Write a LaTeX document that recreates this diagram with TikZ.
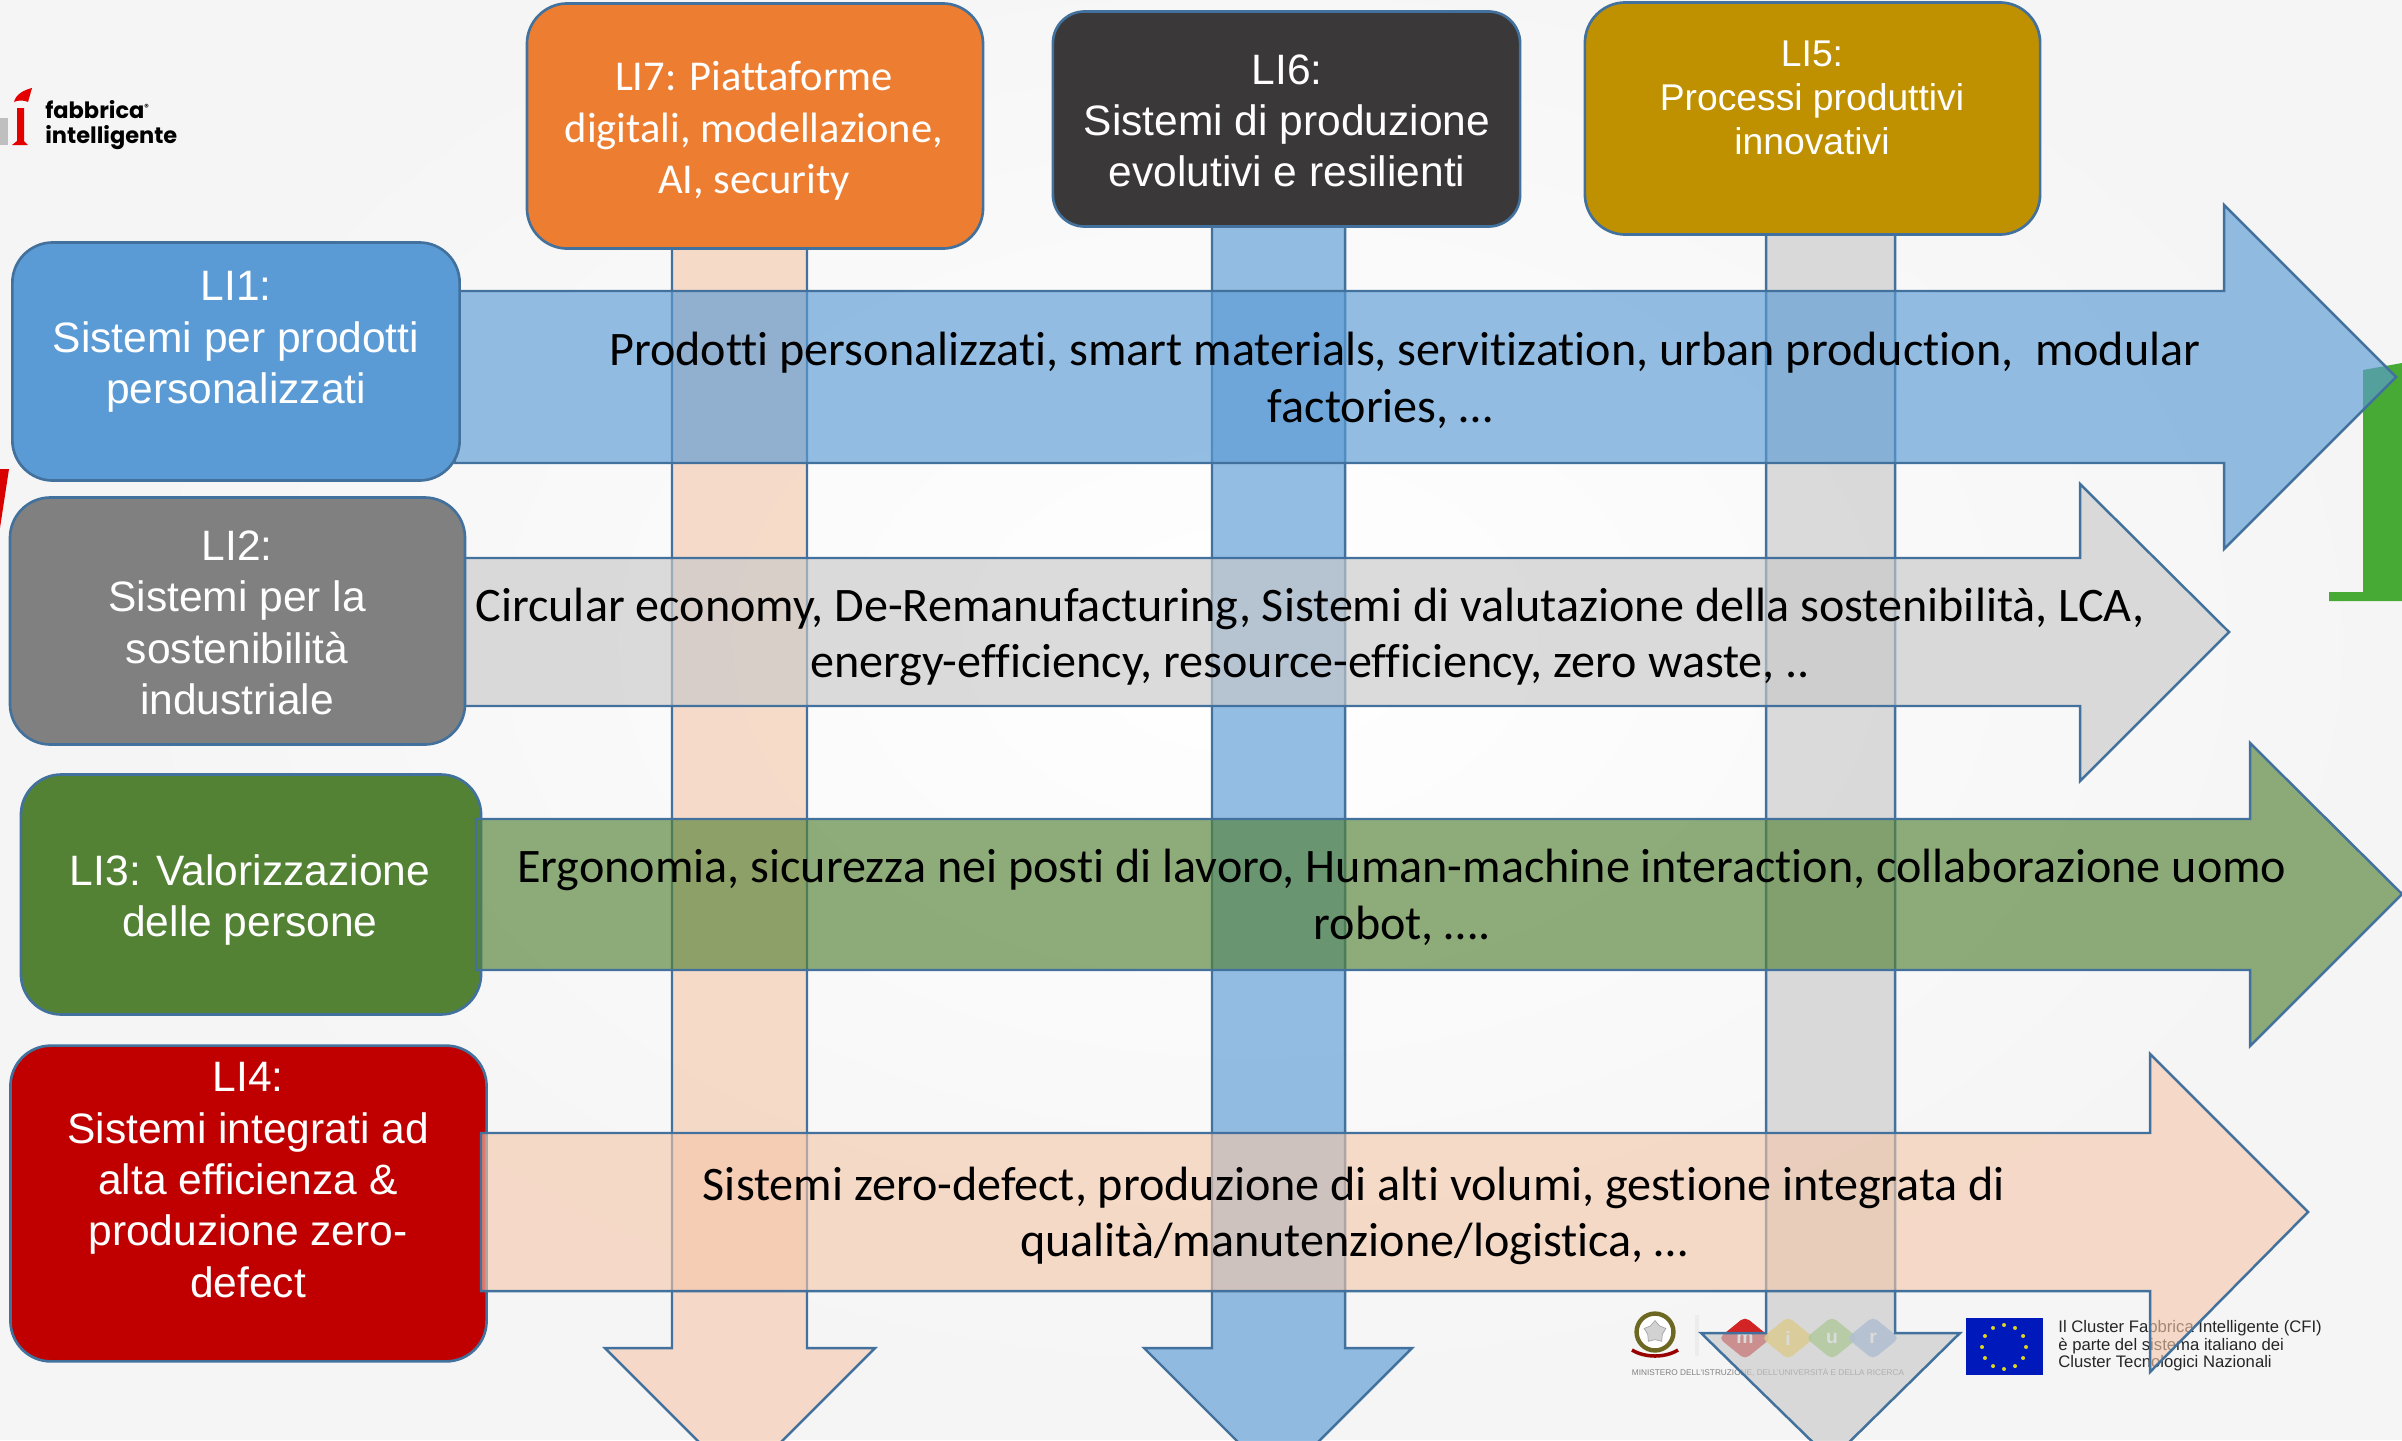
\documentclass[tikz,border=0pt]{standalone}
\usepackage{fontspec}
\setmainfont{Liberation Sans}
\newfontfamily\calf[Ligatures=NoCommon]{Carlito}
\newfontfamily\logof{Poppins}
\usetikzlibrary{shapes.geometric}
\definecolor{edgeb}{HTML}{41719C}
\definecolor{bgc}{HTML}{F5F5F5}
\definecolor{blueA}{HTML}{5B9BD5}
\definecolor{peachA}{HTML}{F5C7AA}
\definecolor{grayA}{HTML}{C9C9C9}
\definecolor{greenA}{HTML}{548235}
\definecolor{greenP}{HTML}{46AA35}
\definecolor{orangeB}{HTML}{ED7D31}
\definecolor{darkB}{HTML}{3A3838}
\definecolor{goldB}{HTML}{BF9000}
\definecolor{redB}{HTML}{C00000}
\tikzset{
  linebox/.style={draw=edgeb,line width=1.5pt,rounded corners=23pt,inner sep=0pt},
  shaftarrow/.style={draw=edgeb,line width=1.4pt,line join=miter,miter limit=10},
  blueshaft/.style={shaftarrow,fill=blueA,fill opacity=.65},
  peachshaft/.style={shaftarrow,fill=peachA,fill opacity=.61},
  grayshaft/.style={shaftarrow,fill=grayA,fill opacity=.65},
  greenshaft/.style={shaftarrow,fill=greenA,fill opacity=.65},
  boxtext/.style={text=white,align=center,inner sep=0pt,font=\fontsize{24.2}{29.2}\selectfont},
  arrowtext/.style={text=black,align=center,inner sep=0pt,font=\calf\fontsize{27.4}{32.3}\selectfont},
  diam/.style={diamond,aspect=1.23,inner sep=0pt,rounded corners=3pt,minimum width=30pt,minimum height=24.4pt,text=white,font=\bfseries\fontsize{11}{11}\selectfont,opacity=.85,text opacity=1},
}
\begin{document}
\begin{tikzpicture}[x=0.02cm,y=-0.02cm]
\useasboundingbox (0,0) rectangle (2402,1440);
\clip (0,0) rectangle (2402,1440);
% background
\fill[bgc] (0,0) rectangle (2402,1440);
\shade[inner color=white,outer color=bgc] (1250,640) ellipse (1150 and 760);
% red and green page remnants
\fill[red!85!black] (0,469) -- (9,469) -- (0,528) -- cycle;
\fill[greenP] (2329,592) -- (2363,592) -- (2363,370) -- (2402,363) -- (2402,601) -- (2329,601) -- cycle;
% fabbrica intelligente logo
\fill[gray!50] (0,118) rectangle (8,145);
\fill[red!90!black] (17,108) -- (24,108) -- (24,141) -- (28,145) -- (12,145) -- (17,141) -- cycle;
\fill[red!90!black] (14,102) .. controls (16,94) and (24,90) .. (32,88) -- (28,102) .. controls (24,100) and (18,100) .. (14,102) -- cycle;
\node (fab) [anchor=west,inner sep=0pt,align=left,font=\logof\bfseries\fontsize{12.8}{14.5}\selectfont] at (45,125) {fabbrica\textsuperscript{\tiny ®}\\intelligente};
% lower logos
\node (emblem) [circle,draw=olive!70!black,fill=white,line width=2.5pt,minimum size=21pt,inner sep=0pt] at (1655,1332) {};
\node (estar) [star,star points=5,fill=gray!35,draw=gray!70,minimum size=13pt,inner sep=0pt] at (1655,1332) {};
\draw[red!60!black,line width=2pt] (1632,1350) .. controls (1645,1358) and (1665,1358) .. (1678,1350);
\draw[gray!15,line width=2pt] (1697,1315) -- (1697,1356);
\node (mm) [diam,fill=red!80!black] at (1745,1338) {m};
\node (mi) [diam,fill=yellow!60!orange!85!white] at (1788,1338) {i};
\node (mu) [diam,fill=green!40!olive!70!white] at (1832,1338) {u};
\node (mr) [diam,fill=cyan!55!blue!50!white] at (1873,1338) {r};
\node (min) [text=gray,inner sep=0pt,font=\fontsize{4.7}{5}\selectfont] at (1768,1372) {MINISTERO DELL'ISTRUZIONE, DELL'UNIVERSITÀ E DELLA RICERCA};
\fill[blue!70!black!90!cyan] (1966,1318) rectangle (2043,1375);
\foreach \a in {0,30,...,330}{\fill[yellow!85!black] ({2004+22*cos(\a)},{1347+22*sin(\a)}) circle (2);}
\node (cfi) [anchor=west,align=left,inner sep=0pt,text=black!85,font=\fontsize{9.5}{8.2}\selectfont] at (2058,1346) {Il Cluster Fabbrica Intelligente (CFI)\\è parte del sistema italiano dei\\Cluster Tecnologici Nazionali};
% vertical arrows
\filldraw[peachshaft] (672,240) -- (807,240) -- (807,1348) -- (875,1348) -- (740,1483) -- (605,1348) -- (672,1348) -- cycle;
\filldraw[blueshaft] (1212,220) -- (1345,220) -- (1345,1348) -- (1412,1348) -- (1278,1482) -- (1144,1348) -- (1212,1348) -- cycle;
\filldraw[grayshaft] (1766,225) -- (1895,225) -- (1895,1333) -- (1960,1333) -- (1831,1460) -- (1701,1333) -- (1766,1333) -- cycle;
% horizontal arrows behind their boxes
\filldraw[blueshaft] (455,291) -- (2224,291) -- (2224,205) -- (2396,377) -- (2224,549) -- (2224,463) -- (455,463) -- cycle;
\filldraw[grayshaft] (460,558) -- (2080,558) -- (2080,484) -- (2229,632) -- (2080,781) -- (2080,706) -- (460,706) -- cycle;
% boxes
\node (li7) [linebox,fill=orangeB,minimum width=259.6pt,minimum height=139.5pt] at (755,126) {};
\node (li6) [linebox,fill=darkB,rounded corners=18pt,minimum width=265.9pt,minimum height=122.4pt] at (1286.5,119) {};
\node (li5) [linebox,fill=goldB,minimum width=259.1pt,minimum height=132.1pt] at (1812.5,118.5) {};
\node (li1) [linebox,fill=blueA,minimum width=254.6pt,minimum height=135.5pt] at (236,361.5) {};
\node (li2) [linebox,fill=black!50,minimum width=259pt,minimum height=140.6pt] at (237.5,621) {};
\node (li3) [linebox,fill=greenA,minimum width=261.9pt,minimum height=136.6pt] at (251,894.5) {};
\node (li4) [linebox,fill=redB,minimum width=271pt,minimum height=179.7pt] at (248.5,1203.5) {};
% horizontal arrows in front of their boxes
\filldraw[greenshaft] (476,819) -- (2250,819) -- (2250,743) -- (2402,894) -- (2250,1046) -- (2250,970) -- (476,970) -- cycle;
\filldraw[peachshaft] (481,1133) -- (2150,1133) -- (2150,1054) -- (2308,1212) -- (2150,1372) -- (2150,1291) -- (481,1291) -- cycle;
% box texts
\node (t7) [boxtext,font=\calf\fontsize{24.2}{29.2}\selectfont] at (754,131) {LI7: Piattaforme\\digitali, modellazione,\\AI, security};
\node (t6) [boxtext] at (1287,121) {LI6:\\Sistemi di produzione\\evolutivi e resilienti};
\node (t5) [boxtext,font=\fontsize{21.2}{25}\selectfont] at (1812,98) {LI5:\\Processi produttivi\\innovativi};
\node (t1) [boxtext] at (236,342) {LI1:\\Sistemi per prodotti\\personalizzati};
\node (t2) [boxtext] at (237,623) {LI2:\\Sistemi per la\\sostenibilità\\industriale};
\node (t3) [boxtext] at (250,900) {LI3: Valorizzazione\\delle persone};
\node (t4) [boxtext] at (248,1180) {LI4:\\Sistemi integrati ad\\alta efficienza \&\\produzione zero-\\defect};
% arrow texts
\node (a1) [arrowtext] at (1405,380) {Prodotti personalizzati, smart materials, servitization, urban production,\ \ modular\\factories, …\hspace*{28pt}};
\node (a2) [arrowtext] at (1310,637) {Circular economy, De-Remanufacturing, Sistemi di valutazione della sostenibilità, LCA,\\energy-efficiency, resource-efficiency, zero waste, ..};
\node (a3) [arrowtext] at (1402,897) {Ergonomia, sicurezza nei posti di lavoro, Human-machine interaction, collaborazione uomo\\robot, ….};
\node (a4) [arrowtext] at (1354,1216) {Sistemi zero-defect, produzione di alti volumi, gestione integrata di\\qualità/manutenzione/logistica, …};
\end{tikzpicture}
\end{document}
